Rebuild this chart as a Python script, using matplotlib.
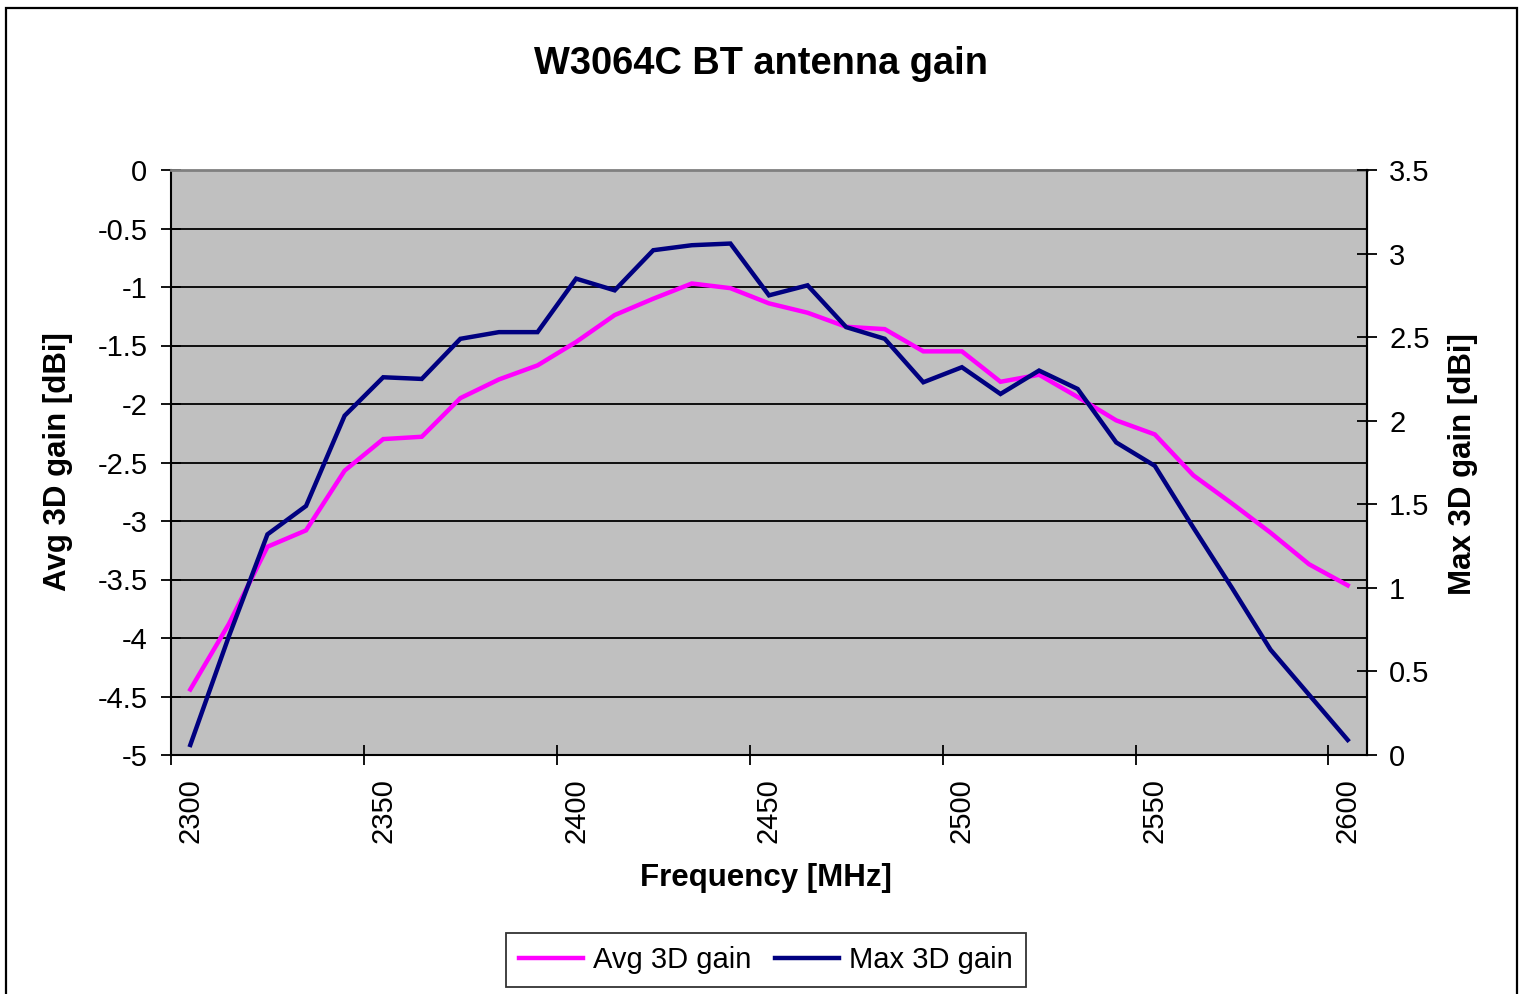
import numpy as np
import matplotlib.pyplot as plt
from matplotlib.patches import Rectangle
from matplotlib.ticker import FixedLocator, MultipleLocator

plt.rcParams['font.family'] = ['Liberation Sans', 'DejaVu Sans']

# Frequencies in MHz (category axis)
freqs = list(range(2300, 2610, 10))

# Average 3D gain [dBi] (left axis)
avg_gain = [-4.44, -3.88, -3.22, -3.08, -2.57, -2.30, -2.28, -1.95, -1.79, -1.67,
            -1.47, -1.24, -1.10, -0.97, -1.01, -1.14, -1.22, -1.34, -1.36, -1.55,
            -1.55, -1.81, -1.75, -1.94, -2.14, -2.26, -2.61, -2.85, -3.10, -3.37,
            -3.55]

# Max 3D gain [dBi] (right axis)
max_gain = [0.06, 0.71, 1.32, 1.49, 2.03, 2.26, 2.25, 2.49, 2.53, 2.53,
            2.85, 2.78, 3.02, 3.05, 3.06, 2.75, 2.81, 2.56, 2.49, 2.23,
            2.32, 2.16, 2.30, 2.19, 1.87, 1.73, 1.36, 1.00, 0.63, 0.36,
            0.09]

W, H = 1522, 994
fig = plt.figure(figsize=(W / 100, H / 100), dpi=100)

# outer chart border (bottom edge is cut off in the reference)
fig.patches.append(Rectangle((6 / W, -0.02), (1517 - 6) / W, 1 + 0.02 - 8 / H,
                             transform=fig.transFigure, fill=False,
                             edgecolor='black', linewidth=1.6))

ax = fig.add_axes([171 / W, 1 - 755 / H, (1367 - 171) / W, (755 - 170) / H])
ax.set_facecolor('#C0C0C0')
x = np.arange(len(freqs))

ax.plot(x, avg_gain, color='#FF00FF', linewidth=3.2, label='Avg 3D gain',
        solid_joinstyle='miter', zorder=3)
ax.set_ylim(-5, 0)
ax.set_xlim(-0.5, len(freqs) - 0.5)
ax.yaxis.set_major_locator(MultipleLocator(0.5))
ax.set_yticklabels([f'{v:g}' for v in ax.get_yticks()])
ax.grid(axis='y', color='black', linewidth=1.3)
ax.set_axisbelow(True)

# category axis: labels every 5 categories, ticks between categories
label_pos = x[::5]
ax.set_xticks(label_pos)
ax.set_xticklabels([str(freqs[i]) for i in label_pos], rotation=90)
ax.xaxis.set_minor_locator(FixedLocator(np.arange(-0.5, len(freqs), 5)))
ax.tick_params(axis='x', which='major', length=0, pad=17, labelsize=21)
ax.tick_params(axis='x', which='minor', length=14, width=1.3, direction='inout')
ax.tick_params(axis='y', length=14, width=1.3, direction='inout', pad=10,
               labelsize=21)

for s in ['left', 'bottom', 'right']:
    ax.spines[s].set_color('black')
    ax.spines[s].set_linewidth(1.5)
ax.spines['top'].set_color('#808080')
ax.spines['top'].set_linewidth(2)

ax2 = ax.twinx()
ax2.plot(x, max_gain, color='#000080', linewidth=3.2, label='Max 3D gain',
         solid_joinstyle='miter', zorder=3)
ax2.set_ylim(0, 3.5)
ax2.yaxis.set_major_locator(MultipleLocator(0.5))
ax2.set_yticklabels([f'{v:g}' for v in ax2.get_yticks()])
ax2.tick_params(axis='y', length=14, width=1.3, direction='inout', pad=9,
                labelsize=21)
for s in ['left', 'bottom', 'top']:
    ax2.spines[s].set_visible(False)
ax2.spines['right'].set_linewidth(1.5)

fig.text(761 / W, 1 - 64 / H, 'W3064C BT antenna gain', ha='center',
         va='center', fontsize=27.4, fontweight='bold')
fig.text(766 / W, 1 - 878 / H, 'Frequency [MHz]', ha='center', va='center',
         fontsize=22.5, fontweight='bold')
fig.text(58 / W, 1 - 462 / H, 'Avg 3D gain [dBi]', ha='center', va='center',
         rotation=90, fontsize=22.5, fontweight='bold')
fig.text(1463 / W, 1 - 464 / H, 'Max 3D gain [dBi]', ha='center', va='center',
         rotation=90, fontsize=22.5, fontweight='bold')

h1, l1 = ax.get_legend_handles_labels()
h2, l2 = ax2.get_legend_handles_labels()
leg = fig.legend(h1 + h2, l1 + l2, loc='center',
                 bbox_to_anchor=(766 / W, 1 - 960 / H), ncol=2, fontsize=21,
                 frameon=True, fancybox=False, handlelength=2.2,
                 handletextpad=0.35, columnspacing=0.8, borderpad=0.45,
                 borderaxespad=0)
leg.get_frame().set_edgecolor('black')
leg.get_frame().set_linewidth(1.3)

fig.savefig('out.png', dpi=100)
